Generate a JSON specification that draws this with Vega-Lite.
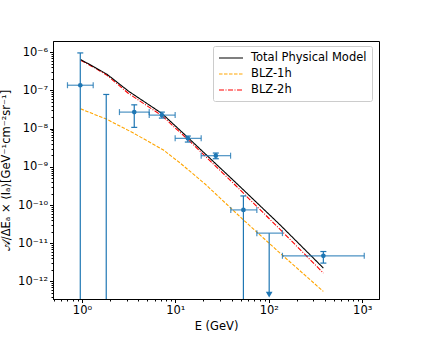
{
  "$schema": "https://vega.github.io/schema/vega-lite/v6.json",
  "autosize": {"type": "none"},
  "padding": {"left": 53, "top": 41, "right": 42, "bottom": 38},
  "width": 326,
  "height": 258,
  "background": "white",
  "config": {
    "font": "DejaVu Sans",
    "view": {"stroke": "black", "strokeWidth": 1},
    "axis": {
      "grid": false,
      "domainColor": "black",
      "tickColor": "black",
      "labelColor": "black",
      "titleColor": "black",
      "labelFont": "DejaVu Sans",
      "titleFont": "DejaVu Sans",
      "labelFontSize": 11.5,
      "titleFontSize": 11.5,
      "titleFontWeight": "normal",
      "tickSize": 3.5,
      "labelPadding": 2
    },
    "legend": {
      "labelFont": "DejaVu Sans",
      "labelFontSize": 11.5,
      "labelColor": "black"
    }
  },
  "datasets": {
    "curves": [
      {"E": 0.966, "flux": 3.30e-8, "series": "BLZ-1h"},
      {"E": 1.851, "flux": 1.75e-8, "series": "BLZ-1h"},
      {"E": 3.56, "flux": 7.66e-9, "series": "BLZ-1h"},
      {"E": 7.46, "flux": 2.75e-9, "series": "BLZ-1h"},
      {"E": 11.25, "flux": 1.26e-9, "series": "BLZ-1h"},
      {"E": 20.8, "flux": 3.56e-10, "series": "BLZ-1h"},
      {"E": 53.5, "flux": 4.08e-11, "series": "BLZ-1h"},
      {"E": 132, "flux": 5.51e-12, "series": "BLZ-1h"},
      {"E": 384, "flux": 5.47e-13, "series": "BLZ-1h"},
      {"E": 0.966, "flux": 6.2e-7, "series": "BLZ-2h"},
      {"E": 1.387, "flux": 3.82e-7, "series": "BLZ-2h"},
      {"E": 1.851, "flux": 2.51e-7, "series": "BLZ-2h"},
      {"E": 3.15, "flux": 8.34e-8, "series": "BLZ-2h"},
      {"E": 7.17, "flux": 2.19e-8, "series": "BLZ-2h"},
      {"E": 13.8, "flux": 5.02e-9, "series": "BLZ-2h"},
      {"E": 43.6, "flux": 3.35e-10, "series": "BLZ-2h"},
      {"E": 132, "flux": 2.31e-11, "series": "BLZ-2h"},
      {"E": 384, "flux": 1.66e-12, "series": "BLZ-2h"},
      {"E": 0.966, "flux": 6.45e-7, "series": "Total Physical Model"},
      {"E": 1.387, "flux": 3.98e-7, "series": "Total Physical Model"},
      {"E": 1.851, "flux": 2.66e-7, "series": "Total Physical Model"},
      {"E": 3.15, "flux": 9.58e-8, "series": "Total Physical Model"},
      {"E": 7.17, "flux": 2.50e-8, "series": "Total Physical Model"},
      {"E": 13.8, "flux": 5.67e-9, "series": "Total Physical Model"},
      {"E": 43.6, "flux": 4.02e-10, "series": "Total Physical Model"},
      {"E": 132, "flux": 3.03e-11, "series": "Total Physical Model"},
      {"E": 384, "flux": 2.24e-12, "series": "Total Physical Model"}
    ],
    "points": [
      {"E": 0.96, "flux": 1.37e-7, "hbar": 1.37e-7, "E_lo": 0.70, "E_hi": 1.32, "v_lo": 1e-13, "v_hi": 9.6e-7, "cap_lo": null, "cap_hi": 9.6e-7, "arrow": null},
      {"E": 1.82, "flux": null, "hbar": null, "E_lo": null, "E_hi": null, "v_lo": 1e-13, "v_hi": 7.85e-8, "cap_lo": null, "cap_hi": 7.85e-8, "arrow": null},
      {"E": 3.63, "flux": 2.71e-8, "hbar": 2.71e-8, "E_lo": 2.52, "E_hi": 5.25, "v_lo": 1.08e-8, "v_hi": 4.2e-8, "cap_lo": 1.08e-8, "cap_hi": 4.2e-8, "arrow": null},
      {"E": 7.17, "flux": 2.26e-8, "hbar": 2.26e-8, "E_lo": 5.25, "E_hi": 9.95, "v_lo": 1.89e-8, "v_hi": 2.71e-8, "cap_lo": 1.89e-8, "cap_hi": 2.71e-8, "arrow": null},
      {"E": 13.6, "flux": 5.57e-9, "hbar": 5.57e-9, "E_lo": 9.95, "E_hi": 18.9, "v_lo": 4.46e-9, "v_hi": 6.4e-9, "cap_lo": 4.46e-9, "cap_hi": 6.4e-9, "arrow": null},
      {"E": 27.1, "flux": 1.96e-9, "hbar": 1.96e-9, "E_lo": 18.9, "E_hi": 39.0, "v_lo": 1.63e-9, "v_hi": 2.3e-9, "cap_lo": 1.63e-9, "cap_hi": 2.3e-9, "arrow": null},
      {"E": 53.5, "flux": 7.46e-11, "hbar": 7.46e-11, "E_lo": 39.2, "E_hi": 74.5, "v_lo": 1e-13, "v_hi": 1.73e-10, "cap_lo": null, "cap_hi": 1.73e-10, "arrow": null},
      {"E": 101, "flux": null, "hbar": 1.84e-11, "E_lo": 74.5, "E_hi": 140, "v_lo": 4.5e-13, "v_hi": 1.84e-11, "cap_lo": null, "cap_hi": null, "arrow": 4.5e-13},
      {"E": 384, "flux": 4.69e-12, "hbar": 4.69e-12, "E_lo": 140, "E_hi": 1052, "v_lo": 3.02e-12, "v_hi": 6.07e-12, "cap_lo": 3.02e-12, "cap_hi": 6.07e-12, "arrow": null}
    ]
  },
  "resolve": {"axis": {"x": "independent", "y": "independent"}},
  "layer": [
    {
      "data": {"name": "curves"},
      "mark": {"type": "line", "strokeWidth": 1.1, "clip": true},
      "encoding": {
        "x": {
          "field": "E", "type": "quantitative",
          "scale": {"type": "log", "domain": [0.49, 1513], "nice": false, "zero": false},
          "axis": {"orient": "bottom", "title": "E (GeV)", "values": [1, 10, 100, 1000],
                   "labelExpr": "'10' + ['⁰','¹','²','³'][round(log(datum.value)/LN10)]",
                   "titlePadding": 4}
        },
        "y": {
          "field": "flux", "type": "quantitative",
          "scale": {"type": "log", "domain": [3.47e-13, 1.97e-6], "nice": false, "zero": false},
          "axis": {"orient": "left", "title": "𝒜/ΔEₐ × ⟨Iₐ⟩[GeV⁻¹cm⁻²sr⁻¹]",
                   "values": [1e-12, 1e-11, 1e-10, 1e-9, 1e-8, 1e-7, 1e-6],
                   "labelExpr": "'10⁻' + ['⁰','¹','²','³','⁴','⁵','⁶','⁷','⁸','⁹','¹⁰','¹¹','¹²','¹³'][-round(log(datum.value)/LN10)]",
                   "titlePadding": 6}
        },
        "color": {
          "field": "series", "type": "nominal",
          "scale": {"domain": ["Total Physical Model", "BLZ-1h", "BLZ-2h"], "range": ["black", "orange", "red"]},
          "legend": {
            "title": null, "orient": "none", "legendX": 160, "legendY": 5,
            "symbolType": "M-2,0H2", "symbolSize": 144, "symbolStrokeWidth": 1.2, "symbolOffset": 6,
            "labelOffset": 13, "padding": 5, "rowPadding": 3,
            "strokeColor": "#cccccc", "fillColor": "white", "cornerRadius": 2
          }
        },
        "strokeDash": {
          "field": "series", "type": "nominal",
          "scale": {"domain": ["Total Physical Model", "BLZ-1h", "BLZ-2h"], "range": [[1, 0], [3.5, 1.5], [5, 1.5, 1, 1.5]]},
          "legend": {
            "title": null, "orient": "none", "legendX": 160, "legendY": 5,
            "symbolType": "M-2,0H2", "symbolSize": 144, "symbolStrokeWidth": 1.2, "symbolOffset": 6,
            "labelOffset": 13, "padding": 5, "rowPadding": 3,
            "strokeColor": "#cccccc", "fillColor": "white", "cornerRadius": 2
          }
        }
      }
    },
    {
      "data": {"name": "points"},
      "mark": {"type": "rule", "color": "#1f77b4", "strokeWidth": 1.2, "clip": true},
      "encoding": {
        "x": {"field": "E", "type": "quantitative",
              "axis": {"orient": "bottom", "title": null, "labels": false, "domain": false, "tickSize": 2,
                       "values": [0.5,0.6,0.7,0.8,0.9,2,3,4,5,6,7,8,9,20,30,40,50,60,70,80,90,200,300,400,500,600,700,800,900]}},
        "y": {"field": "v_lo", "type": "quantitative",
              "axis": {"orient": "left", "title": null, "labels": false, "domain": false, "tickSize": 2,
                       "values": [4e-13,5e-13,6e-13,7e-13,8e-13,9e-13,2e-12,3e-12,4e-12,5e-12,6e-12,7e-12,8e-12,9e-12,2e-11,3e-11,4e-11,5e-11,6e-11,7e-11,8e-11,9e-11,2e-10,3e-10,4e-10,5e-10,6e-10,7e-10,8e-10,9e-10,2e-9,3e-9,4e-9,5e-9,6e-9,7e-9,8e-9,9e-9,2e-8,3e-8,4e-8,5e-8,6e-8,7e-8,8e-8,9e-8,2e-7,3e-7,4e-7,5e-7,6e-7,7e-7,8e-7,9e-7]}},
        "y2": {"field": "v_hi"}
      }
    },
    {
      "data": {"name": "points"},
      "mark": {"type": "rule", "color": "#1f77b4", "strokeWidth": 1.2, "opacity": 0.8, "clip": true},
      "encoding": {
        "x": {"field": "E_lo", "type": "quantitative", "axis": null},
        "x2": {"field": "E_hi"},
        "y": {"field": "hbar", "type": "quantitative", "axis": null}
      }
    },
    {
      "data": {"name": "points"},
      "mark": {"type": "tick", "orient": "horizontal", "size": 6, "thickness": 1.2, "color": "#1f77b4", "opacity": 1, "clip": true},
      "encoding": {
        "x": {"field": "E", "type": "quantitative", "axis": null},
        "y": {"field": "cap_hi", "type": "quantitative", "axis": null}
      }
    },
    {
      "data": {"name": "points"},
      "mark": {"type": "tick", "orient": "horizontal", "size": 6, "thickness": 1.2, "color": "#1f77b4", "opacity": 1, "clip": true},
      "encoding": {
        "x": {"field": "E", "type": "quantitative", "axis": null},
        "y": {"field": "cap_lo", "type": "quantitative", "axis": null}
      }
    },
    {
      "data": {"name": "points"},
      "mark": {"type": "tick", "orient": "vertical", "size": 6, "thickness": 1.2, "color": "#1f77b4", "opacity": 0.8, "clip": true},
      "encoding": {
        "x": {"field": "E_lo", "type": "quantitative", "axis": null},
        "y": {"field": "hbar", "type": "quantitative", "axis": null}
      }
    },
    {
      "data": {"name": "points"},
      "mark": {"type": "tick", "orient": "vertical", "size": 6, "thickness": 1.2, "color": "#1f77b4", "opacity": 0.8, "clip": true},
      "encoding": {
        "x": {"field": "E_hi", "type": "quantitative", "axis": null},
        "y": {"field": "hbar", "type": "quantitative", "axis": null}
      }
    },
    {
      "data": {"name": "points"},
      "mark": {"type": "point", "shape": "circle", "filled": true, "size": 22, "color": "#1f77b4", "opacity": 1, "clip": true},
      "encoding": {
        "x": {"field": "E", "type": "quantitative", "axis": null},
        "y": {"field": "flux", "type": "quantitative", "axis": null}
      }
    },
    {
      "data": {"name": "points"},
      "mark": {"type": "point", "shape": "triangle-down", "filled": true, "size": 45, "color": "#1f77b4", "opacity": 1, "clip": false},
      "encoding": {
        "x": {"field": "E", "type": "quantitative", "axis": null},
        "y": {"field": "arrow", "type": "quantitative", "axis": null}
      }
    }
  ]
}
